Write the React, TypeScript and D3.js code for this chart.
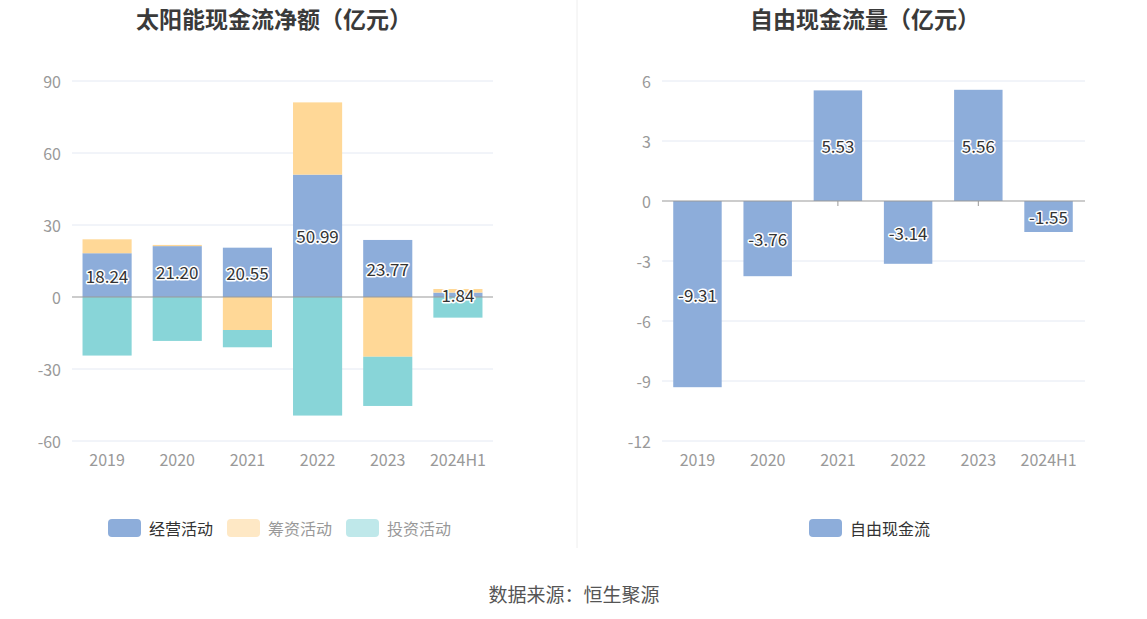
import React from "react";
import * as d3 from "d3";

const categories = ["2019", "2020", "2021", "2022", "2023", "2024H1"];
const operating = [18.24, 21.2, 20.55, 50.99, 23.77, 1.84];
const financing = [5.8, 0.5, -13.75, 30.1, -24.9, 1.5];
const investing = [-24.4, -18.3, -7.2, -49.4, -20.5, -8.6];
const freeCashFlow = [-9.31, -3.76, 5.53, -3.14, 5.56, -1.55];
const leftTicks = [90, 60, 30, 0, -30, -60];
const rightTicks = [6, 3, 0, -3, -6, -9, -12];

const BLUE = "#8DADDA";
const YELLOW = "#FFD897";
const TEAL = "#88D5D8";
const FONT = "'Noto Sans CJK SC', 'Noto Sans', sans-serif";

type Seg = { y0: number; y1: number; color: string };

function Label({ x, y, text }: { x: number; y: number; text: string }) {
  return (
    <text
      x={x}
      y={y}
      textAnchor="middle"
      dominantBaseline="central"
      fontSize={17}
      fontFamily={FONT}
      fill="#333"
      stroke="#fff"
      strokeWidth={3}
      paintOrder="stroke"
      strokeLinejoin="round"
    >
      {text}
    </text>
  );
}

function Axes({
  x,
  y,
  ticks,
  x0,
  x1,
}: {
  x: d3.ScaleBand<string>;
  y: d3.ScaleLinear<number, number>;
  ticks: number[];
  x0: number;
  x1: number;
}) {
  return (
    <g>
      {ticks.map((t) => (
        <g key={t}>
          {t !== 0 && <line x1={x0} x2={x1} y1={y(t)} y2={y(t)} stroke="#E4E9F3" strokeWidth={1} />}
          <text
            x={x0 - 11}
            y={y(t)}
            textAnchor="end"
            dominantBaseline="central"
            fontSize={16}
            fontFamily={FONT}
            fill="#999"
          >
            {t}
          </text>
        </g>
      ))}
      {categories.map((c) => (
        <g key={c}>
          <line
            x1={(x(c) as number) + x.bandwidth() / 2}
            x2={(x(c) as number) + x.bandwidth() / 2}
            y1={y(0)}
            y2={y(0) + 5}
            stroke="#999"
          />
          <text
            x={(x(c) as number) + x.bandwidth() / 2}
            y={y(ticks[ticks.length - 1]) + 18}
            textAnchor="middle"
            dominantBaseline="central"
            fontSize={16}
            fontFamily={FONT}
            fill="#999"
          >
            {c}
          </text>
        </g>
      ))}
    </g>
  );
}

function LegendItem({ x, y, color, text, textColor }: { x: number; y: number; color: string; text: string; textColor: string }) {
  return (
    <g>
      <rect x={x} y={y - 9} width={33} height={18} rx={4} fill={color} />
      <text x={x + 41} y={y} dominantBaseline="central" fontSize={16} fontFamily={FONT} fill={textColor}>
        {text}
      </text>
    </g>
  );
}

export default function App() {
  const W = 1147;
  const H = 619;

  // Left chart
  const lx = d3.scaleBand<string>().domain(categories).range([72, 493]).paddingInner(0.3).paddingOuter(0.15);
  const ly = d3.scaleLinear().domain([-60, 90]).range([441, 81]);

  const leftBars: { cat: string; segs: Seg[] }[] = categories.map((c, i) => {
    const vals = [
      { v: operating[i], color: BLUE },
      { v: financing[i], color: YELLOW },
      { v: investing[i], color: TEAL },
    ];
    let pos = 0;
    let neg = 0;
    const segs: Seg[] = [];
    vals.forEach(({ v, color }) => {
      if (v >= 0) {
        segs.push({ y0: pos, y1: pos + v, color });
        pos += v;
      } else {
        segs.push({ y0: neg, y1: neg + v, color });
        neg += v;
      }
    });
    return { cat: c, segs };
  });

  // Right chart
  const rx = d3.scaleBand<string>().domain(categories).range([662, 1084]).paddingInner(0.31).paddingOuter(0.16);
  const ry = d3.scaleLinear().domain([-12, 6]).range([441, 81]);

  return (
    <svg width={W} height={H} style={{ position: "absolute", left: 0, top: 0 }}>
      <rect width={W} height={H} fill="#fff" />
      <line x1={577} x2={577} y1={0} y2={548} stroke="#EEEEEE" />
      <text x={274} y={18} textAnchor="middle" dominantBaseline="central" fontSize={23} fontWeight="bold" fontFamily={FONT} fill="#3a3a3a">
        太阳能现金流净额（亿元）
      </text>
      <text x={865} y={18} textAnchor="middle" dominantBaseline="central" fontSize={23} fontWeight="bold" fontFamily={FONT} fill="#3a3a3a">
        自由现金流量（亿元）
      </text>

      {/* left chart */}
      <Axes x={lx} y={ly} ticks={leftTicks} x0={72} x1={493} />
      {leftBars.map((b) =>
        b.segs.map((s, j) => (
          <rect
            key={b.cat + j}
            x={lx(b.cat)}
            width={lx.bandwidth()}
            y={ly(Math.max(s.y0, s.y1))}
            height={Math.abs(ly(s.y0) - ly(s.y1))}
            fill={s.color}
          />
        ))
      )}
      <line x1={72} x2={493} y1={ly(0)} y2={ly(0)} stroke="#999" />
      {categories.map((c, i) => (
        <Label key={c} x={(lx(c) as number) + lx.bandwidth() / 2} y={ly(operating[i] / 2)} text={operating[i].toFixed(2)} />
      ))}

      {/* right chart */}
      <Axes x={rx} y={ry} ticks={rightTicks} x0={662} x1={1085} />
      {categories.map((c, i) => (
        <rect
          key={c}
          x={rx(c)}
          width={rx.bandwidth()}
          y={ry(Math.max(0, freeCashFlow[i]))}
          height={Math.abs(ry(0) - ry(freeCashFlow[i]))}
          fill={BLUE}
        />
      ))}
      <line x1={662} x2={1085} y1={ry(0)} y2={ry(0)} stroke="#999" />
      {categories.map((c, i) => (
        <Label key={c} x={(rx(c) as number) + rx.bandwidth() / 2} y={ry(freeCashFlow[i] / 2)} text={freeCashFlow[i].toFixed(2)} />
      ))}

      {/* legends */}
      <LegendItem x={108} y={528} color={BLUE} text="经营活动" textColor="#333" />
      <LegendItem x={227} y={528} color="#FEE8C5" text="筹资活动" textColor="#999" />
      <LegendItem x={346} y={528} color="#BFE8EA" text="投资活动" textColor="#999" />
      <LegendItem x={809} y={528} color={BLUE} text="自由现金流" textColor="#333" />

      <text x={574} y={593} textAnchor="middle" dominantBaseline="central" fontSize={19} fontFamily={FONT} fill="#555">
        数据来源：恒生聚源
      </text>
    </svg>
  );
}
